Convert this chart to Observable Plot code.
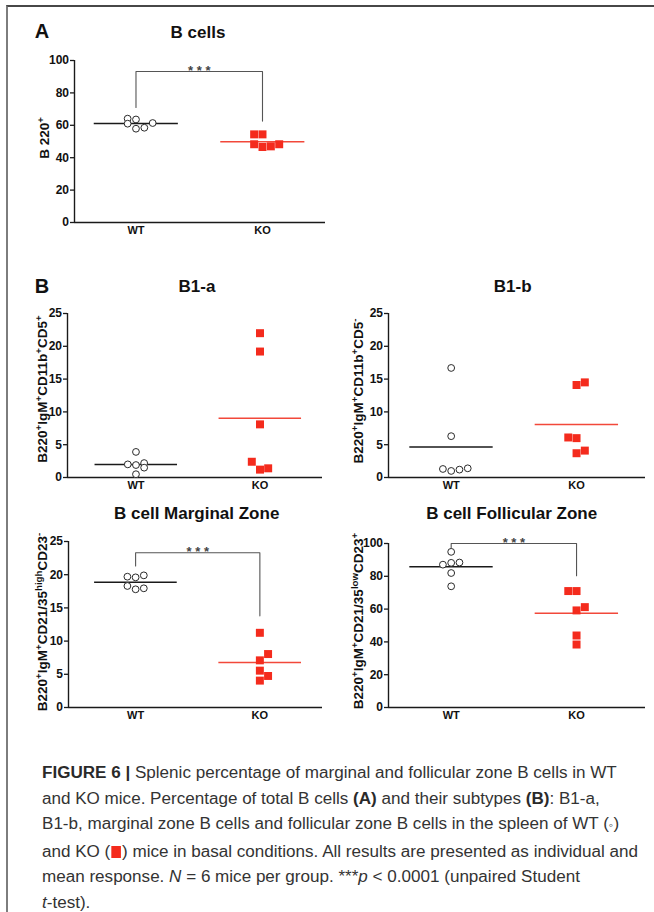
<!DOCTYPE html>
<html>
<head>
<meta charset="utf-8">
<script src="https://cdn.jsdelivr.net/npm/d3@7"></script>
<script src="https://cdn.jsdelivr.net/npm/@observablehq/plot@0.6"></script>
<style>
  html, body { margin: 0; padding: 0; background: #fff; width: 654px; height: 912px; overflow: hidden;
    font-family: "Liberation Sans", Arial, sans-serif; }
  #page { position: relative; width: 654px; height: 912px; overflow: hidden; }
  .frame { position: absolute; left: 6px; top: 5px; width: 700px; height: 950px;
    border-top: 2px solid #474747; border-left: 2px solid #7d7d7d; }
  .panel { position: absolute; }
  .lbl { position: absolute; transform: translate(-50%, -50%); white-space: nowrap; font-weight: bold; color: #111; }
  .ylab { position: absolute; transform: translate(-50%, -50%) rotate(-90deg); white-space: nowrap;
    font-weight: bold; font-size: 13.5px; color: #111; }
  .ylab sup { font-size: 0.72em; vertical-align: 0.5em; line-height: 0; }
  #caption { position: absolute; left: 42px; top: 760px; font-size: 16px; line-height: 25.6px; color: #333;
    transform-origin: 0 0; }
  #caption div { white-space: nowrap; width: max-content; }
  #caption b { color: #2a2a2a; }
  .sq { display: inline-block; width: 9px; height: 12px; background: #f42b1d; vertical-align: -1px; margin: 0 1px; }
</style>
</head>
<body>
<div id="page">
  <div class="frame"></div>
</div>
<script>
// ---------------- data ----------------
const groups = ["WT", "KO"];

// A: B cells (B220+)
const bCellsWT     = [64.1, 61.0, 63.6, 57.9, 58.5, 61.4];
const bCellsWTLane = [-1, -1, 0, 0, 1, 2];
const bCellsKO     = [54.4, 48.3, 54.4, 46.6, 47.0, 48.3];
const bCellsKOLane = [-1, -1, 0, 0, 1, 2];
const bCellsBracket = [71, 93.2, 62.6]; // left leg end, top, right leg end

// B1-a
const b1aWT     = [3.9, 2.0, 1.9, 2.2, 1.5, 0.5];
const b1aWTLane = [0, -1, 0, 1, 1, 0];
const b1aKO     = [22.0, 19.2, 8.1, 2.4, 1.2, 1.4];
const b1aKOLane = [0, 0, 0, -1, 0, 1];

// B1-b
const b1bWT     = [16.7, 6.3, 1.3, 1.0, 1.2, 1.4];
const b1bWTLane = [0, 0, -1, 0, 1, 2];
const b1bKO     = [14.1, 14.5, 6.1, 6.0, 3.7, 4.1];
const b1bKOLane = [0, 1, -1, 0, 0, 1];

// Marginal zone
const mzWT     = [19.7, 19.6, 19.9, 18.3, 17.8, 17.95];
const mzWTLane = [-1, 0, 1, -1, 0, 1];
const mzKO     = [11.25, 8.05, 7.1, 5.55, 4.75, 4.05];
const mzKOLane = [0, 1, 0, 0, 1, 0];
const mzBracket = [21.3, 23.3, 13.8];

// Follicular zone
const fzWT     = [94.9, 87.1, 88.2, 88.4, 82.0, 73.9];
const fzWTLane = [0, -1, 0, 1, 0, 0];
const fzKO     = [71.0, 71.0, 59.2, 61.2, 43.9, 38.4];
const fzKOLane = [-1, 0, 0, 1, 0, 0];
const fzBracket = [97.5, 100, 80.3];

const ticks100 = [0, 20, 40, 60, 80, 100];
const ticks25  = [0, 5, 10, 15, 20, 25];
const stars = "* * *";

// ---------------- layout / style ----------------
const RED = "#f42b1d";
const RED_LINE = "#f2483a";
const INK = "#1a1a1a";
const laneStep = 0.066;
const meanLeft = 0.33, meanRight = 0.335;

const panels = [
  { title: "B cells", tx: 198, ty: 33,
    wt: bCellsWT, wtLane: bCellsWTLane, ko: bCellsKO, koLane: bCellsKOLane, bracket: bCellsBracket,
    yMax: 100, ticks: ticks100, ylabel: "B 220<sup>+</sup>", lx: 44, ly: 138,
    box: { left: 0, top: 0, width: 330, height: 252, mL: 74, mR: 5, mT: 60, mB: 30 }, xDomain: [-0.486, 1.498] },
  { title: "B1-a", tx: 197, ty: 287,
    wt: b1aWT, wtLane: b1aWTLane, ko: b1aKO, koLane: b1aKOLane, bracket: null,
    yMax: 25, ticks: ticks25, ylabel: "B220<sup>+</sup>IgM<sup>+</sup>CD11b<sup>+</sup>CD5<sup>+</sup>", lx: 42, ly: 389,
    box: { left: 0, top: 290, width: 330, height: 217, mL: 67, mR: 8, mT: 23, mB: 30 }, xDomain: [-0.552, 1.504] },
  { title: "B1-b", tx: 512.7, ty: 287,
    wt: b1bWT, wtLane: b1bWTLane, ko: b1bKO, koLane: b1bKOLane, bracket: null,
    yMax: 25, ticks: ticks25, ylabel: "B220<sup>+</sup>IgM<sup>+</sup>CD11b<sup>+</sup>CD5<sup>-</sup>", lx: 358, ly: 391,
    box: { left: 330, top: 290, width: 324, height: 217, mL: 58, mR: 9, mT: 23, mB: 30 }, xDomain: [-0.5, 1.55] },
  { title: "B cell Marginal Zone", tx: 196.7, ty: 514,
    wt: mzWT, wtLane: mzWTLane, ko: mzKO, koLane: mzKOLane, bracket: mzBracket,
    yMax: 25, ticks: ticks25, ylabel: "B220<sup>+</sup>IgM<sup>+</sup>CD21/35<sup>high</sup>CD23<sup>-</sup>", lx: 42, ly: 622,
    box: { left: 0, top: 520, width: 330, height: 217, mL: 68, mR: 8, mT: 21, mB: 30 }, xDomain: [-0.54, 1.504] },
  { title: "B cell Follicular Zone", tx: 511.7, ty: 514,
    wt: fzWT, wtLane: fzWTLane, ko: fzKO, koLane: fzKOLane, bracket: fzBracket,
    yMax: 100, ticks: ticks100, ylabel: "B220<sup>+</sup>IgM<sup>+</sup>CD21/35<sup>low</sup>CD23<sup>+</sup>", lx: 358, ly: 621,
    box: { left: 330, top: 520, width: 324, height: 217, mL: 58, mR: 9, mT: 23, mB: 30 }, xDomain: [-0.5, 1.55] }
];

const page = document.getElementById("page");

function makePanel(p) {
  const wtPts = p.wt.map((v, i) => ({ g: 0, lane: p.wtLane[i], v }));
  const koPts = p.ko.map((v, i) => ({ g: 1, lane: p.koLane[i], v }));
  const wtMean = [{ g: 0, v: d3.mean(p.wt) }];
  const koMean = [{ g: 1, v: d3.mean(p.ko) }];
  const b = p.box;
  const marks = [
    Plot.ruleX([p.xDomain[0]], { y1: 0, y2: p.yMax, stroke: INK, strokeWidth: 1.4 }),
    Plot.ruleY([0], { stroke: INK, strokeWidth: 1.4 }),
    Plot.axisY({ ticks: p.ticks, tickSize: 4, tickPadding: 1.5, fontSize: 12, fontWeight: "bold", label: null, stroke: INK, strokeWidth: 1.3, fill: "#111" }),
    Plot.axisX({ ticks: [0, 1], tickFormat: (d) => groups[d], tickSize: 0, tickPadding: 4, fontSize: 11, fontWeight: "bold", label: null, fill: "#111" }),
    Plot.ruleY(wtMean, { y: "v", x1: (d) => d.g - meanLeft, x2: (d) => d.g + meanRight, stroke: INK, strokeWidth: 1.5 }),
    Plot.ruleY(koMean, { y: "v", x1: (d) => d.g - meanLeft, x2: (d) => d.g + meanRight, stroke: RED_LINE, strokeWidth: 1.5 }),
    Plot.dot(wtPts, { x: (d) => d.g + d.lane * laneStep, y: "v", r: 3.4, stroke: "#2a2a2a", fill: "white", strokeWidth: 1 }),
    Plot.dot(koPts, { x: (d) => d.g + d.lane * laneStep, y: "v", symbol: "square", r: 4.5, fill: RED, stroke: "none" })
  ];
  if (p.bracket) {
    const br = p.bracket;
    const path = [{ x: 0, y: br[0] }, { x: 0, y: br[1] }, { x: 1, y: br[1] }, { x: 1, y: br[2] }];
    marks.push(Plot.line(path, { x: "x", y: "y", stroke: "#555", strokeWidth: 1.1 }));
    marks.push(Plot.text([{ x: 0.5, y: br[1], t: stars }], { x: "x", y: "y", text: "t", dy: -1, fontSize: 13, fontWeight: "bold", fill: "#444" }));
  }
  const svg = Plot.plot({
    width: b.width, height: b.height,
    marginLeft: b.mL, marginRight: b.mR, marginTop: b.mT, marginBottom: b.mB,
    x: { domain: p.xDomain }, y: { domain: [0, p.yMax] },
    style: { fontFamily: "'Liberation Sans', Arial, sans-serif", fontWeight: "bold", fontSize: "12px", color: INK, background: "transparent", overflow: "visible" },
    marks
  });
  svg.classList.add("panel");
  svg.style.left = b.left + "px";
  svg.style.top = b.top + "px";
  page.appendChild(svg);

  const t = document.createElement("div");
  t.className = "lbl";
  t.style.left = p.tx + "px"; t.style.top = p.ty + "px"; t.style.fontSize = "17px";
  t.textContent = p.title;
  page.appendChild(t);

  const yl = document.createElement("div");
  yl.className = "ylab";
  yl.style.left = p.lx + "px"; yl.style.top = p.ly + "px";
  yl.innerHTML = p.ylabel;
  page.appendChild(yl);
}
panels.forEach(makePanel);

// panel letters
[["A", 42, 31], ["B", 42, 286]].forEach(([s, x, y]) => {
  const d = document.createElement("div");
  d.className = "lbl"; d.style.left = x + "px"; d.style.top = y + "px"; d.style.fontSize = "20px";
  d.textContent = s; page.appendChild(d);
});

// caption
const cap = document.createElement("div");
cap.id = "caption";
cap.innerHTML = [
  '<b>FIGURE 6 |</b> Splenic percentage of marginal and follicular zone B cells in WT',
  'and KO mice. Percentage of total B cells <b>(A)</b> and their subtypes <b>(B)</b>: B1-a,',
  'B1-b, marginal zone B cells and follicular zone B cells in the spleen of WT (<span style="font-size:12px">\u25E6</span>)',
  'and KO (<span class="sq"></span>) mice in basal conditions. All results are presented as individual and',
  'mean response. <i>N</i> = 6 mice per group. ***<i>p</i> &lt; 0.0001 (unpaired Student',
  '<i>t</i>-test).'
].map(l => '<div>' + l + '</div>').join('');
page.appendChild(cap);
const line4 = cap.children[3];
const w4 = line4.getBoundingClientRect().width;
const s = 596 / w4;
cap.style.transform = `scaleX(${s})`;
</script>
</body>
</html>
